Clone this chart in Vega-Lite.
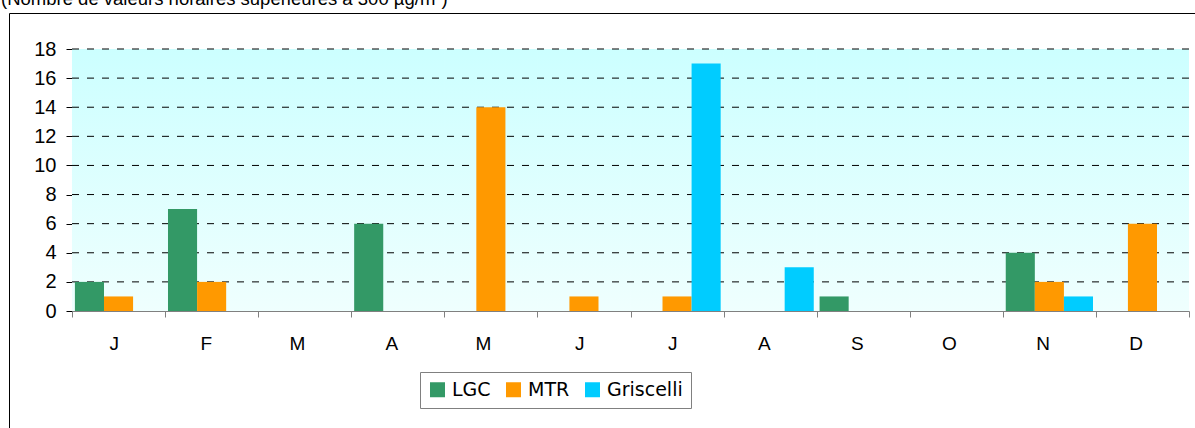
{
  "$schema": "https://vega.github.io/schema/vega-lite/v6.json",
  "width": 1190,
  "height": 420,
  "autosize": {"type": "none"},
  "padding": {"left": 9, "top": 13, "right": -4, "bottom": -5},
  "background": "white",
  "title": {
    "text": "(Nombre de valeurs horaires supérieures à 300 µg/m³)",
    "anchor": "start",
    "frame": "group",
    "orient": "top",
    "offset": 0,
    "baseline": "alphabetic",
    "dx": -8,
    "dy": 10,
    "font": "Liberation Sans",
    "fontSize": 18.5,
    "fontWeight": "normal",
    "color": "black"
  },
  "config": {
    "view": {"stroke": "black", "strokeWidth": 1, "fill": "white"}
  },
  "datasets": {
    "bars": [
      {"mois": "Janvier", "serie": "LGC", "valeur": 2},
      {"mois": "Janvier", "serie": "MTR", "valeur": 1},
      {"mois": "Janvier", "serie": "Griscelli", "valeur": 0},
      {"mois": "Février", "serie": "LGC", "valeur": 7},
      {"mois": "Février", "serie": "MTR", "valeur": 2},
      {"mois": "Février", "serie": "Griscelli", "valeur": 0},
      {"mois": "Mars", "serie": "LGC", "valeur": 0},
      {"mois": "Mars", "serie": "MTR", "valeur": 0},
      {"mois": "Mars", "serie": "Griscelli", "valeur": 0},
      {"mois": "Avril", "serie": "LGC", "valeur": 6},
      {"mois": "Avril", "serie": "MTR", "valeur": 0},
      {"mois": "Avril", "serie": "Griscelli", "valeur": 0},
      {"mois": "Mai", "serie": "LGC", "valeur": 0},
      {"mois": "Mai", "serie": "MTR", "valeur": 14},
      {"mois": "Mai", "serie": "Griscelli", "valeur": 0},
      {"mois": "Juin", "serie": "LGC", "valeur": 0},
      {"mois": "Juin", "serie": "MTR", "valeur": 1},
      {"mois": "Juin", "serie": "Griscelli", "valeur": 0},
      {"mois": "Juillet", "serie": "LGC", "valeur": 0},
      {"mois": "Juillet", "serie": "MTR", "valeur": 1},
      {"mois": "Juillet", "serie": "Griscelli", "valeur": 17},
      {"mois": "Août", "serie": "LGC", "valeur": 0},
      {"mois": "Août", "serie": "MTR", "valeur": 0},
      {"mois": "Août", "serie": "Griscelli", "valeur": 3},
      {"mois": "Septembre", "serie": "LGC", "valeur": 1},
      {"mois": "Septembre", "serie": "MTR", "valeur": 0},
      {"mois": "Septembre", "serie": "Griscelli", "valeur": 0},
      {"mois": "Octobre", "serie": "LGC", "valeur": 0},
      {"mois": "Octobre", "serie": "MTR", "valeur": 0},
      {"mois": "Octobre", "serie": "Griscelli", "valeur": 0},
      {"mois": "Novembre", "serie": "LGC", "valeur": 4},
      {"mois": "Novembre", "serie": "MTR", "valeur": 2},
      {"mois": "Novembre", "serie": "Griscelli", "valeur": 1},
      {"mois": "Décembre", "serie": "LGC", "valeur": 0},
      {"mois": "Décembre", "serie": "MTR", "valeur": 6},
      {"mois": "Décembre", "serie": "Griscelli", "valeur": 0}
    ],
    "grid": [{"v": 2}, {"v": 4}, {"v": 6}, {"v": 8}, {"v": 10}, {"v": 12}, {"v": 14}, {"v": 16}, {"v": 18}]
  },
  "layer": [
    {
      "data": {"name": "bars"},
      "mark": {
        "type": "rect",
        "strokeWidth": 0,
        "color": {
          "gradient": "linear", "x1": 0, "y1": 0, "x2": 0, "y2": 1,
          "stops": [{"offset": 0, "color": "#ccffff"}, {"offset": 1, "color": "#effffe"}]
        }
      },
      "encoding": {
        "x": {"field": "mois", "type": "nominal"},
        "y": {"datum": 18, "type": "quantitative"},
        "y2": {"datum": 0}
      }
    },
    {
      "data": {"name": "grid"},
      "mark": {"type": "rule", "color": "black", "strokeWidth": 1, "strokeDash": [7, 8]},
      "encoding": {
        "y": {"field": "v", "type": "quantitative"},
        "x": {"datum": "Janvier", "type": "nominal", "bandPosition": 0},
        "x2": {"datum": "Décembre", "bandPosition": 1}
      }
    },
    {
      "data": {"name": "bars"},
      "mark": {"type": "bar", "strokeWidth": 0},
      "encoding": {
        "x": {
          "field": "mois", "type": "nominal",
          "scale": {
            "domain": ["Janvier", "Février", "Mars", "Avril", "Mai", "Juin", "Juillet", "Août", "Septembre", "Octobre", "Novembre", "Décembre"],
            "range": [63, 1180], "paddingInner": 0, "paddingOuter": 0
          },
          "axis": {
            "title": null, "offset": -122, "tickBand": "extent", "labelAngle": 0,
            "labelExpr": "slice(datum.label, 0, 1)",
            "domainColor": "#808080", "tickColor": "#808080", "tickSize": 6, "grid": false,
            "labelFont": "Liberation Sans", "labelFontSize": 19, "labelColor": "black", "labelPadding": 26
          }
        },
        "xOffset": {
          "field": "serie", "type": "nominal",
          "scale": {"domain": ["LGC", "MTR", "Griscelli"], "paddingInner": 0, "paddingOuter": 0.1}
        },
        "y": {
          "field": "valeur", "type": "quantitative",
          "scale": {"domain": [0, 18], "range": [298, 36], "nice": false, "zero": true},
          "axis": {
            "title": null, "offset": -63, "values": [0, 2, 4, 6, 8, 10, 12, 14, 16, 18],
            "domainColor": "black", "tickColor": "black", "tickSize": 6, "grid": false,
            "labelFont": "Liberation Sans", "labelFontSize": 20, "labelColor": "black", "labelPadding": 10
          }
        },
        "color": {
          "field": "serie", "type": "nominal",
          "scale": {"domain": ["LGC", "MTR", "Griscelli"], "range": ["#339966", "#ff9900", "#00ccff"]},
          "legend": {
            "title": null, "orient": "none", "legendX": 411, "legendY": 359, "direction": "horizontal",
            "strokeColor": "#808080", "fillColor": "white", "padding": 8, "symbolType": "square", "symbolSize": 225,
            "symbolStrokeWidth": 0, "labelFont": "DejaVu Sans", "labelFontSize": 19, "labelColor": "black",
            "columnPadding": 13, "labelOffset": 5
          }
        }
      }
    }
  ]
}
